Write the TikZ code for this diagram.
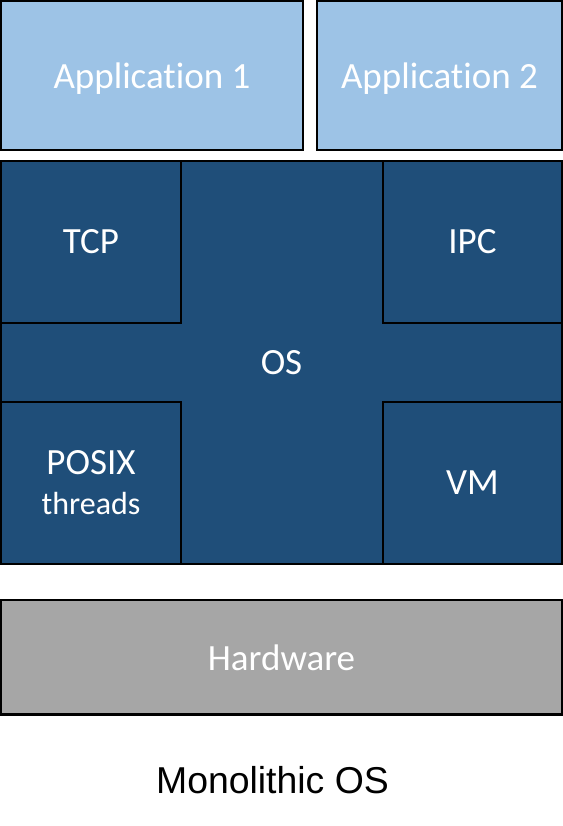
\documentclass[tikz,border=0pt]{standalone}
\usepackage{fontspec}
\setmainfont{Carlito}[Ligatures=NoCommon]
\newfontfamily\capfont{Liberation Sans}
\usetikzlibrary{positioning}
\definecolor{applight}{HTML}{9DC3E6}
\definecolor{osdark}{HTML}{1F4E79}
\definecolor{hwgrey}{HTML}{A6A6A6}

\begin{document}
\begin{tikzpicture}[
    box/.style={draw=black, line width=1.25pt, outer sep=0pt, inner sep=0pt, text=white, align=center, font=\fontsize{18.5}{20}\selectfont},
    app/.style={box, fill=applight, minimum height=74.5pt, text depth=0pt},
    oscore/.style={box, fill=osdark, minimum width=280.5pt, minimum height=201.5pt},
    sub/.style={box, fill=osdark, minimum height=81pt},
    hw/.style={box, fill=hwgrey, minimum width=280.5pt, minimum height=57.3pt},
    caption/.style={font=\capfont\fontsize{18.7}{20}\selectfont, inner sep=0pt},
]
\useasboundingbox (0,0) rectangle (281.5pt,-413pt);
\node[app, minimum width=151pt, anchor=north west] (app1) at (0.5pt,-0.5pt) {Application 1};
\node[app, minimum width=122.5pt, right=7pt of app1] (app2) {Application 2};
\node[oscore, below right=5.5pt and 0pt of app1.south west] (os) {OS};
\node[sub, minimum width=90pt, anchor=north west] (tcp) at (os.north west) {TCP};
\node[sub, minimum width=89.5pt, anchor=north east] (ipc) at (os.north east) {IPC};
\node[sub, minimum width=90pt, anchor=south west] (posix) at (os.south west) {POSIX\\ {\fontsize{16}{20}\selectfont threads}};
\node[sub, minimum width=89.5pt, anchor=south east] (vm) at (os.south east) {VM};
\node[hw, below right=18pt and 0pt of os.south west] (hw) {Hardware};
\node[caption, below=33pt of hw, anchor=center, xshift=-4.5pt] (title) {Monolithic OS};
\end{tikzpicture}
\end{document}
